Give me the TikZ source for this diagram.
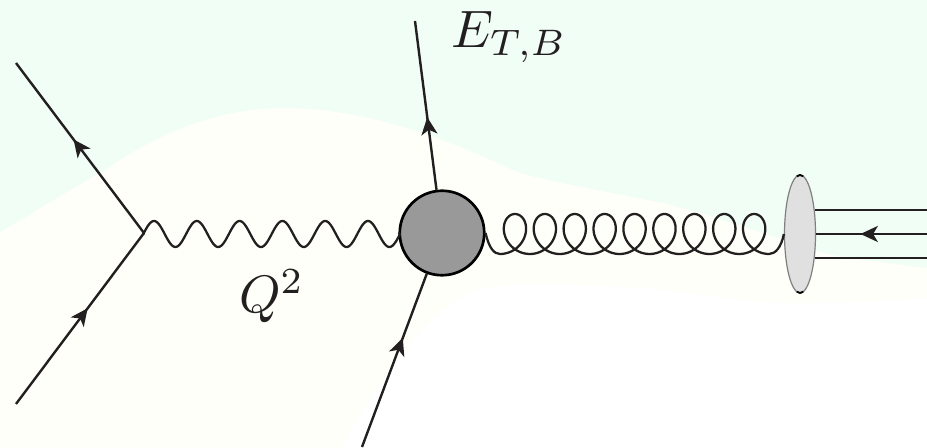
\documentclass[tikz,border=0pt]{standalone}
\usetikzlibrary{arrows.meta,decorations.markings,shapes.geometric}
\definecolor{bgwhite}{HTML}{FFFFFF}
\definecolor{bgyellow}{HTML}{FEFFF8}
\definecolor{bggreen}{HTML}{F0FEF5}
\definecolor{ink}{HTML}{231F20}
\tikzset{
  line/.style={draw=ink,line width=1.8pt},
  thin line/.style={draw=ink,line width=1.7pt},
  arrowmark/.style={postaction={decorate},decoration={markings,mark=at position #1 with {\arrow{Stealth[length=13pt,width=12pt,inset=3.5pt]}}}},
  label/.style={inner sep=0pt,anchor=base west,scale=3.95,text=ink},
}
\begin{document}
\begin{tikzpicture}[x=0.75pt,y=-0.75pt]
\useasboundingbox (0,0) rectangle (927,448);
% background
\fill[bgwhite] (0,0) rectangle (927,448);
\fill[bgyellow] (0,0) -- (927,0) -- (927,298) .. controls (860,302) and (790,306) .. (740,300)
  .. controls (700,295) and (660,288) .. (620,287)
  .. controls (570,285) and (510,278) .. (468,293)
  .. controls (420,320) and (380,380) .. (340,448) -- (0,448) -- cycle;
\fill[bggreen] (0,0) -- (927,0) -- (927,268) .. controls (880,262) and (840,258) .. (813,250)
  .. controls (750,228) and (700,212) .. (663,203)
  .. controls (600,190) and (530,178) .. (513,170)
  .. controls (470,150) and (380,108) .. (283,108)
  .. controls (190,108) and (120,160) .. (100,173)
  .. controls (60,195) and (30,215) .. (0,232) -- cycle;
% nodes
\coordinate (vertex) at (144,233);
\coordinate (q1) at (16,404);
\coordinate (q2) at (16,63);
\coordinate (q3) at (362,447);
\coordinate (q4) at (415,21);
\node[circle,draw=black,line width=2pt,fill=black!40!white,minimum size=84.5*0.75pt,inner sep=0pt] (blob) at (442,233) {};
\node[ellipse,draw=black!50,line width=0.9pt,fill=black!12,minimum width=31*0.75pt,minimum height=118*0.75pt,inner sep=0pt] (proton) at (800,234) {};
\coordinate (p1) at (927,210);
\coordinate (p2) at (927,234);
\coordinate (p3) at (927,258);
\coordinate (s1) at (815,210);
\coordinate (s3) at (815,258);
% fermions
\draw[line,arrowmark=0.56] (q1) -- (vertex);
\draw[line,arrowmark=0.55] (vertex) -- (q2);
\draw[line,arrowmark=0.63] (q3) -- (blob);
\draw[line,arrowmark=0.43] (blob) -- (q4);
% photon
\draw[thin line,line join=round] (vertex) -- plot[domain=0:37.7,samples=200] ({143.3+42.8*\x/6.28319},{234-13*sin(\x r)}) -- (blob.west);
% gluon
\draw[thin line,line join=round] (blob.east) .. controls (489,248) and (494,254) .. (500,254)
  -- plot[domain=0:56.549,samples=500] ({500+29.9*\x/6.28319+18*sin(\x r)},{234+20*cos(\x r)})
  .. controls (775,254) and (781,248) .. (proton.west);
% proton lines
\draw[line] (s1) -- (p1);
\draw[line] (s3) -- (p3);
\draw[line,arrowmark=0.6] (p2) -- (proton.east);
% ellipse tips
\draw[black,line width=1.4pt] (proton.center) ++(78:15.5*0.75pt and -59*0.75pt) arc[start angle=78,end angle=102,x radius=15.5*0.75pt,y radius=-59*0.75pt];
\draw[black,line width=1.4pt] (proton.center) ++(258:15.5*0.75pt and -59*0.75pt) arc[start angle=258,end angle=282,x radius=15.5*0.75pt,y radius=-59*0.75pt];
% labels
\node[label] (qlabel) at (238,313) {$Q^2$};
\node[label] (elabel) at (450,48) {$E_{T,B}$};
\end{tikzpicture}
\end{document}
